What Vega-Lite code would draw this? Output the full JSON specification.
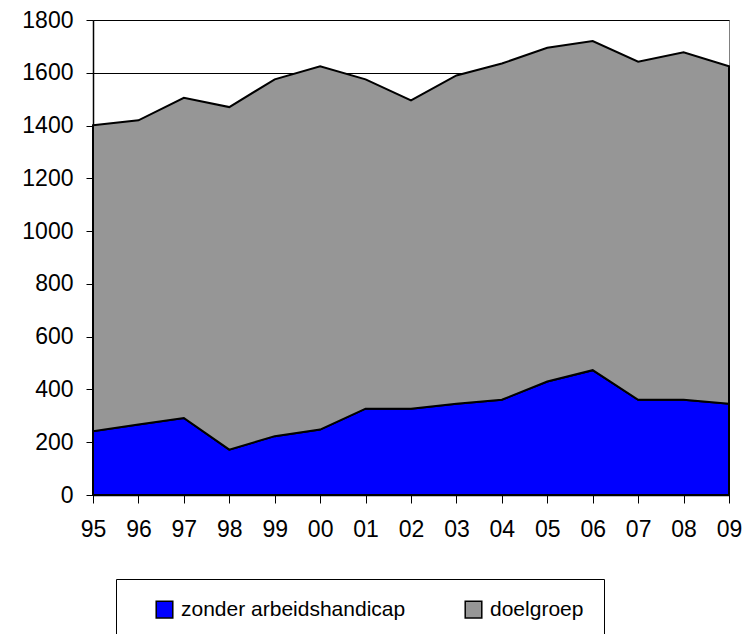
{
  "$schema": "https://vega.github.io/schema/vega-lite/v6.json",
  "width": 636,
  "height": 475,
  "autosize": "none",
  "padding": {"left": 93, "top": 20, "right": 22, "bottom": 139},
  "background": "white",
  "config": {
    "font": "Liberation Sans",
    "view": {"stroke": "#808080", "strokeWidth": 1},
    "axis": {"labelFont": "Liberation Sans", "labelColor": "black", "domainColor": "black", "tickColor": "black", "labelFontWeight": "normal"}
  },
  "data": {
    "values": [
      {"year": "95", "series": "zonder arbeidshandicap", "value": 242},
      {"year": "96", "series": "zonder arbeidshandicap", "value": 267},
      {"year": "97", "series": "zonder arbeidshandicap", "value": 292},
      {"year": "98", "series": "zonder arbeidshandicap", "value": 172},
      {"year": "99", "series": "zonder arbeidshandicap", "value": 223},
      {"year": "00", "series": "zonder arbeidshandicap", "value": 248},
      {"year": "01", "series": "zonder arbeidshandicap", "value": 327},
      {"year": "02", "series": "zonder arbeidshandicap", "value": 327},
      {"year": "03", "series": "zonder arbeidshandicap", "value": 346},
      {"year": "04", "series": "zonder arbeidshandicap", "value": 361},
      {"year": "05", "series": "zonder arbeidshandicap", "value": 430},
      {"year": "06", "series": "zonder arbeidshandicap", "value": 473},
      {"year": "07", "series": "zonder arbeidshandicap", "value": 361},
      {"year": "08", "series": "zonder arbeidshandicap", "value": 361},
      {"year": "09", "series": "zonder arbeidshandicap", "value": 346},
      {"year": "95", "series": "doelgroep", "value": 1159},
      {"year": "96", "series": "doelgroep", "value": 1153},
      {"year": "97", "series": "doelgroep", "value": 1213},
      {"year": "98", "series": "doelgroep", "value": 1298},
      {"year": "99", "series": "doelgroep", "value": 1352},
      {"year": "00", "series": "doelgroep", "value": 1377},
      {"year": "01", "series": "doelgroep", "value": 1248},
      {"year": "02", "series": "doelgroep", "value": 1168},
      {"year": "03", "series": "doelgroep", "value": 1244},
      {"year": "04", "series": "doelgroep", "value": 1274},
      {"year": "05", "series": "doelgroep", "value": 1265},
      {"year": "06", "series": "doelgroep", "value": 1247},
      {"year": "07", "series": "doelgroep", "value": 1281},
      {"year": "08", "series": "doelgroep", "value": 1317},
      {"year": "09", "series": "doelgroep", "value": 1279}
    ]
  },
  "mark": {"type": "area", "stroke": "black", "strokeWidth": 2, "strokeJoin": "miter", "opacity": 1},
  "encoding": {
    "x": {
      "field": "year", "type": "ordinal", "sort": null,
      "scale": {"type": "point", "padding": 0},
      "axis": {"title": null, "labelAngle": 0, "labelFontSize": 23, "tickSize": 8, "labelPadding": 15, "grid": false, "domainWidth": 1.5}
    },
    "y": {
      "field": "value", "type": "quantitative", "stack": "zero",
      "scale": {"domain": [0, 1800], "nice": false},
      "axis": {"title": null, "format": "d", "values": [0, 200, 400, 600, 800, 1000, 1200, 1400, 1600, 1800], "labelFontSize": 23, "tickSize": 7, "labelPadding": 13, "grid": true, "gridColor": "black", "gridWidth": 1, "gridOpacity": 1, "domainWidth": 1.5}
    },
    "color": {
      "field": "series", "type": "nominal",
      "scale": {"domain": ["zonder arbeidshandicap", "doelgroep"], "range": ["#0000FF", "#969696"]},
      "legend": {
        "title": null, "orient": "none", "legendX": 23, "legendY": 559, "direction": "horizontal",
        "strokeColor": "black", "padding": 20, "symbolOffset": 18, "columnPadding": 39,
        "symbolType": "square", "symbolSize": 275, "symbolStrokeColor": "black", "symbolStrokeWidth": 1.5,
        "labelFontSize": 21, "labelFont": "Liberation Sans", "labelColor": "black", "labelLimit": 400, "labelOffset": 6
      }
    },
    "order": {"field": "series", "sort": "descending"}
  }
}
